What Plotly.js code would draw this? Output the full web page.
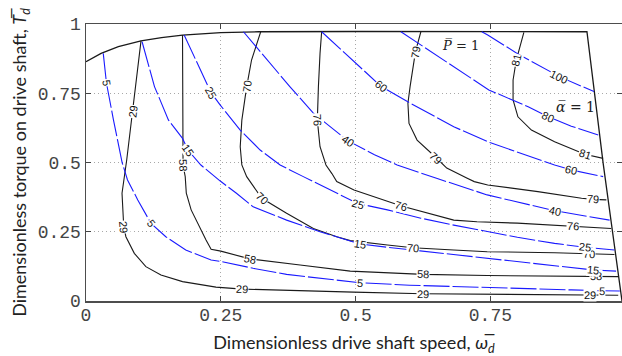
<!DOCTYPE html>
<html>
<head>
<meta charset="utf-8">
<script src="https://cdn.plot.ly/plotly-3.0.1.min.js"></script>
<style>html,body{margin:0;padding:0;background:#fff;overflow:hidden}</style>
</head>
<body>
<div id="chart" style="width:622px;height:356px"></div>
<script>
// Operating envelope boundary (torque limit on top, speed limit on the right)
const boundaryX = [0, 0.028, 0.06, 0.102, 0.14, 0.179, 0.25, 0.32, 0.5, 0.75, 0.929, 0.959, 0.992, 0.994];
const boundaryY = [0.864, 0.894, 0.918, 0.939, 0.951, 0.960, 0.969, 0.972, 0.973, 0.973, 0.972, 0.498, 0.029, 0.0];

// Efficiency contours (black, %)
const eff29x = [0.102, 0.0866, 0.0755, 0.0668, 0.070, 0.074, 0.0896, 0.111, 0.139, 0.179, 0.241, 0.29, 0.397, 0.496, 0.625, 0.75, 0.85, 0.935, 0.987];
const eff29y = [0.939, 0.683, 0.509, 0.389, 0.268, 0.232, 0.172, 0.124, 0.094, 0.070, 0.050, 0.043, 0.036, 0.032, 0.026, 0.024, 0.023, 0.022, 0.021];
const eff58x = [0.179, 0.179, 0.180, 0.184, 0.186, 0.195, 0.210, 0.2226, 0.232, 0.25, 0.304, 0.372, 0.397, 0.49, 0.625, 0.744, 0.85, 0.945, 0.987];
const eff58y = [0.960, 0.70, 0.49, 0.449, 0.389, 0.329, 0.268, 0.220, 0.187, 0.180, 0.152, 0.134, 0.130, 0.108, 0.096, 0.092, 0.090, 0.089, 0.088];
const eff70x = [0.324, 0.307, 0.298, 0.289, 0.286, 0.289, 0.298, 0.326, 0.372, 0.4216, 0.465, 0.49, 0.559, 0.606, 0.682, 0.744, 0.869, 0.933, 0.980];
const eff70y = [0.972, 0.870, 0.774, 0.653, 0.557, 0.491, 0.449, 0.371, 0.317, 0.262, 0.232, 0.218, 0.202, 0.192, 0.184, 0.178, 0.174, 0.170, 0.168];
const eff76x = [0.437, 0.434, 0.431, 0.429, 0.434, 0.445, 0.456, 0.465, 0.497, 0.585, 0.682, 0.725, 0.80, 0.869, 0.903, 0.974];
const eff76y = [0.972, 0.894, 0.774, 0.653, 0.557, 0.491, 0.460, 0.431, 0.401, 0.343, 0.292, 0.286, 0.281, 0.274, 0.271, 0.262];
const eff79x = [0.621, 0.611, 0.601, 0.597, 0.599, 0.614, 0.649, 0.669, 0.707, 0.72, 0.745, 0.838, 0.919, 0.940, 0.965];
const eff79y = [0.972, 0.900, 0.774, 0.714, 0.641, 0.581, 0.518, 0.480, 0.443, 0.431, 0.419, 0.395, 0.371, 0.367, 0.365];
const eff81x = [0.812, 0.798, 0.792, 0.792, 0.801, 0.826, 0.869, 0.900, 0.925, 0.959];
const eff81y = [0.970, 0.870, 0.798, 0.726, 0.665, 0.617, 0.575, 0.551, 0.530, 0.515];

// Power contours (blue dashed, %)
const pow5x = [0.032, 0.038, 0.051, 0.067, 0.077, 0.096, 0.1206, 0.148, 0.185, 0.232, 0.252, 0.310, 0.372, 0.430, 0.508, 0.60, 0.768, 0.90, 0.956, 0.99];
const pow5y = [0.894, 0.786, 0.653, 0.500, 0.437, 0.365, 0.280, 0.232, 0.184, 0.148, 0.142, 0.118, 0.096, 0.083, 0.066, 0.057, 0.046, 0.040, 0.037, 0.036];
const pow15x = [0.104, 0.127, 0.153, 0.179, 0.189, 0.213, 0.249, 0.279, 0.310, 0.372, 0.434, 0.496, 0.508, 0.559, 0.65, 0.76, 0.85, 0.941, 0.983];
const pow15y = [0.936, 0.774, 0.653, 0.587, 0.545, 0.491, 0.433, 0.389, 0.340, 0.292, 0.250, 0.214, 0.206, 0.194, 0.175, 0.152, 0.133, 0.112, 0.108];
const pow25x = [0.182, 0.210, 0.232, 0.249, 0.286, 0.323, 0.36, 0.403, 0.45, 0.49, 0.504, 0.559, 0.621, 0.682, 0.744, 0.80, 0.869, 0.925, 0.980];
const pow25y = [0.960, 0.846, 0.752, 0.707, 0.617, 0.545, 0.491, 0.449, 0.405, 0.365, 0.352, 0.329, 0.299, 0.274, 0.250, 0.230, 0.208, 0.194, 0.184];
const pow40x = [0.292, 0.341, 0.378, 0.4216, 0.486, 0.535, 0.577, 0.65, 0.744, 0.869, 0.971];
const pow40y = [0.972, 0.858, 0.774, 0.678, 0.578, 0.528, 0.491, 0.443, 0.383, 0.326, 0.292];
const pow60x = [0.437, 0.490, 0.547, 0.596, 0.682, 0.749, 0.869, 0.900, 0.959];
const pow60y = [0.972, 0.878, 0.775, 0.720, 0.629, 0.572, 0.491, 0.473, 0.449];
const pow80x = [0.584, 0.621, 0.682, 0.747, 0.820, 0.857, 0.90, 0.950];
const pow80y = [0.972, 0.924, 0.846, 0.762, 0.701, 0.665, 0.631, 0.599];
const pow100x = [0.734, 0.745, 0.801, 0.84, 0.878, 0.942];
const pow100y = [0.972, 0.960, 0.892, 0.851, 0.810, 0.756];

// Contour sets: level, points, and the vertices that carry an inline label
const effContours = [
  {level: '29', x: eff29x, y: eff29y, labels: [1, 4, 11, 14, 17]},
  {level: '58', x: eff58x, y: eff58y, labels: [2, 10, 14, 17]},
  {level: '70', x: eff70x, y: eff70y, labels: [2, 7, 13, 17]},
  {level: '76', x: eff76x, y: eff76y, labels: [3, 9, 14]},
  {level: '79', x: eff79x, y: eff79y, labels: [1, 6, 13]},
  {level: '81', x: eff81x, y: eff81y, labels: [1, 8]}
];
const powContours = [
  {level: '5', x: pow5x, y: pow5y, labels: [1, 6, 14, 18]},
  {level: '15', x: pow15x, y: pow15y, labels: [4, 12, 17]},
  {level: '25', x: pow25x, y: pow25y, labels: [2, 10, 17]},
  {level: '40', x: pow40x, y: pow40y, labels: [4, 9]},
  {level: '60', x: pow60x, y: pow60y, labels: [2, 7]},
  {level: '80', x: pow80x, y: pow80y, labels: [5]},
  {level: '100', x: pow100x, y: pow100y, labels: [4]}
];

const X_MAX = 0.994;
const M = {l: 86, r: 0, t: 24, b: 55};
const W = 622, H = 356;
const pxPerX = (W - M.l - M.r) / X_MAX;
const pxPerY = (H - M.t - M.b) / 1.0;

const BLACK = '#1a1a1a';
const BLUE = '#1a1aff';

const traces = [];
traces.push({x: boundaryX, y: boundaryY, type: 'scatter', mode: 'lines',
  line: {color: BLACK, width: 1.3}, hoverinfo: 'skip'});
effContours.forEach(c => traces.push({x: c.x, y: c.y, type: 'scatter', mode: 'lines',
  line: {color: BLACK, width: 1.1}, hoverinfo: 'skip'}));
powContours.forEach(c => traces.push({x: c.x, y: c.y, type: 'scatter', mode: 'lines',
  line: {color: BLUE, width: 1.1, dash: '26px,3px'}, hoverinfo: 'skip'}));

// Inline labels follow the local direction of their contour
function labelAngle(xs, ys, i) {
  const a = Math.max(0, i - 1), b = Math.min(xs.length - 1, i + 1);
  const dx = (xs[b] - xs[a]) * pxPerX;
  const dy = (ys[b] - ys[a]) * pxPerY;
  let ang = Math.atan2(dy, dx) * 180 / Math.PI;
  if (ang > 90) ang -= 180;
  if (ang < -90) ang += 180;
  return -ang;
}
const annotations = [];
[...effContours, ...powContours].forEach(c => {
  c.labels.forEach(i => annotations.push({
    x: c.x[i], y: c.y[i], xref: 'x', yref: 'y', text: c.level, showarrow: false,
    textangle: labelAngle(c.x, c.y, i), bgcolor: '#ffffff', borderpad: 0,
    font: {family: 'Liberation Sans, Arial, sans-serif', size: 11, color: '#111'}
  }));
});
annotations.push({x: 0.695, y: 0.922, xref: 'x', yref: 'y', showarrow: false,
  text: '<i>P\u0305</i> = 1', font: {family: 'DejaVu Serif, serif', size: 13, color: '#222'}});
annotations.push({x: 0.907, y: 0.700, xref: 'x', yref: 'y', showarrow: false,
  text: '<i>\u03b1\u0305</i> = 1', font: {family: 'DejaVu Serif, serif', size: 14, color: '#222'}});

const tickFont = {family: 'Liberation Mono, Courier New, monospace', size: 18, color: '#444'};
const titleFont = {family: 'Lato, Open Sans, sans-serif', size: 18, color: '#222'};

const gridStyle = {showgrid: true, gridcolor: '#a8a8a8', griddash: '1px,3px', gridwidth: 1, zeroline: false};

const layout = {
  width: W, height: H, margin: M,
  paper_bgcolor: '#fff', plot_bgcolor: '#fff',
  showlegend: false, hovermode: false,
  xaxis: Object.assign({
    range: [0, X_MAX], tickvals: [0, 0.25, 0.5, 0.75], ticktext: ['0', '0.25', '0.5', '0.75'],
    ticks: 'inside', ticklen: 5, tickcolor: '#444', mirror: 'allticks',
    showline: true, linecolor: '#4d4d4d', linewidth: 1.5,
    tickfont: tickFont, ticklabelstandoff: -3, automargin: false,
    title: {text: 'Dimensionless drive shaft speed, <i>\u03c9\u0305<sub>d</sub></i>', font: titleFont, standoff: 14}
  }, gridStyle),
  yaxis: Object.assign({
    range: [0, 1], tickvals: [0, 0.25, 0.5, 0.75, 1], ticktext: ['0', '0.25', '0.5', '0.75', '1'],
    ticks: 'inside', ticklen: 5, tickcolor: '#444', mirror: 'allticks',
    showline: true, linecolor: '#4d4d4d', linewidth: 1.5,
    tickfont: tickFont, automargin: false,
    title: {text: 'Dimensionless torque on drive shaft, <i>T\u0305<sub>d</sub></i>', font: titleFont, standoff: 6}
  }, gridStyle),
  annotations: annotations
};

Plotly.newPlot('chart', traces, layout, {displayModeBar: false, staticPlot: true});
</script>
</body>
</html>
